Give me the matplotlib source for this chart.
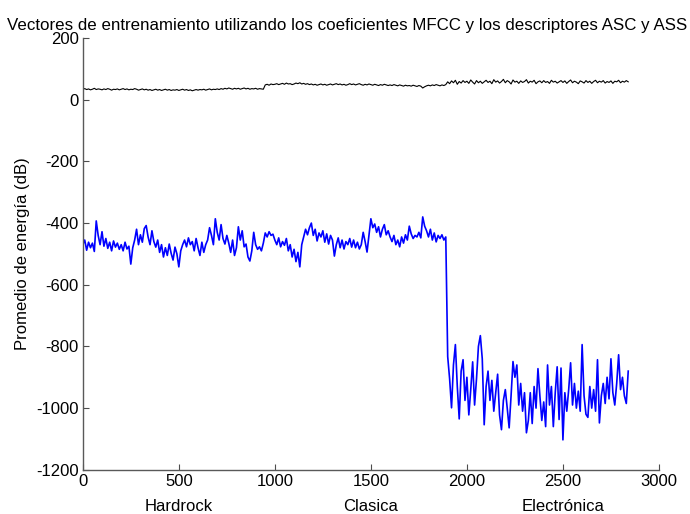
import numpy as np
import matplotlib
matplotlib.use("Agg")
import matplotlib.pyplot as plt
import matplotlib.transforms as mtransforms

plt.rcParams['font.family'] = ['Liberation Sans', 'DejaVu Sans']
plt.rcParams['axes.unicode_minus'] = False

step = 10  # samples between stored values

# Average energy of the MFCC training vectors (dB), one value every 10 samples
mfcc_db = [
    -470, -455, -488, -462, -480, -465, -492, -393, -440, -470,
    -428, -475, -450, -482, -462, -490, -458, -478, -465, -485,
    -470, -490, -462, -484, -475, -533, -480, -455, -420, -470,
    -438, -462, -418, -408, -445, -470, -425, -460, -478, -455,
    -495, -470, -510, -480, -505, -468, -498, -520, -478, -500,
    -542, -490, -470, -455, -477, -448, -470, -460, -490, -450,
    -480, -505, -462, -495, -470, -455, -415, -440, -470, -386,
    -430, -455, -405, -450, -468, -440, -465, -495, -455, -505,
    -480, -412, -455, -425, -477, -468, -510, -523, -490, -430,
    -470, -485, -477, -490, -465, -432, -445, -428, -440, -436,
    -455, -470, -448, -477, -460, -472, -450, -490, -470, -510,
    -485, -525, -495, -542, -470, -445, -420, -438, -415, -400,
    -440, -420, -458, -432, -445, -425, -462, -435, -468, -440,
    -455, -507, -470, -448, -480, -455, -484, -460, -470, -450,
    -478, -455, -480, -462, -484, -470, -430, -460, -494, -440,
    -386, -415, -403, -430, -412, -445, -420, -405, -438, -425,
    -445, -460, -440, -470, -455, -477, -445, -465, -438, -455,
    -410, -435, -450, -440, -445, -430, -448, -380, -410, -425,
    -445, -420, -455, -432, -461, -440, -450, -438, -455, -445,
    -833, -905, -999, -860, -794, -930, -1035, -880, -843, -975,
    -900, -1022, -940, -850, -990, -905, -800, -765, -840, -1054,
    -930, -880, -975, -910, -1010, -950, -890, -1022, -1070, -975,
    -940, -1000, -1064, -960, -849, -900, -860, -990, -920, -1010,
    -950, -1080, -1040, -950, -1050, -930, -1000, -872, -960, -1040,
    -980, -1060, -860, -990, -930, -1060, -950, -866, -1037, -870,
    -1103, -950, -1010, -940, -853, -990, -920, -1000, -945, -1010,
    -794, -960, -1020, -1030, -930, -1000, -940, -1010, -843, -1048,
    -960, -920, -985, -900, -970, -840, -950, -990, -920, -827,
    -940, -900, -960, -985, -880,
]

# Average energy of the ASC / ASS descriptor vectors (dB)
desc_db = [
    34, 36, 33, 35, 32, 34, 37, 33, 35, 34,
    32, 35, 33, 36, 34, 31, 34, 33, 35, 32,
    34, 36, 33, 35, 32, 34, 33, 36, 34, 31,
    33, 35, 32, 34, 31, 33, 30, 32, 34, 31,
    33, 30, 32, 34, 31, 33, 30, 32, 31, 33,
    30, 32, 34, 31, 33, 30, 32, 29, 31, 33,
    31, 33, 32, 34, 31, 33, 35, 32, 34, 33,
    35, 33, 36, 34, 37, 35, 38, 36, 34, 37,
    35, 37, 34, 36, 38, 35, 37, 34, 36, 35,
    37, 34, 36, 35, 34, 48, 50, 47, 51, 49,
    50, 52, 49, 51, 53, 50, 54, 51, 52, 49,
    51, 54, 52, 55, 51, 53, 50, 52, 49, 51,
    48, 50, 47, 49, 51, 48, 50, 47, 49, 51,
    48, 50, 52, 49, 51, 48, 50, 47, 49, 52,
    49, 51, 48, 50, 52, 49, 47, 50, 48, 51,
    49, 47, 50, 48, 46, 49, 47, 50, 48, 46,
    48, 46, 49, 47, 45, 48, 46, 44, 47, 45,
    46, 44, 47, 45, 43, 46, 44, 38, 42, 45,
    47, 45, 48, 46, 49, 47, 45, 48, 46, 49,
    58, 52, 61, 55, 63, 50, 59, 54, 62, 56,
    60, 53, 64, 57, 51, 62, 55, 60, 53, 58,
    63, 56, 60, 52, 65, 57, 61, 54, 59, 66,
    55, 62, 58, 51, 64, 57, 60, 53, 61, 56,
    59, 65, 54, 60, 57, 63, 52, 58, 61, 55,
    62, 56, 59, 53, 63, 57, 60, 54, 58, 62,
    56, 61, 53, 59, 64, 55, 60, 57, 52, 61,
    58, 54, 62, 56, 60, 53, 59, 63, 55, 60,
    57, 62, 54, 59, 56, 61, 53, 60, 58, 63,
    55, 60, 57, 62, 58,
]

genres = ["Hardrock", "Clasica", "Electrónica"]
genre_centers = [500, 1500, 2500]
x_ticks = [0, 500, 1000, 1500, 2000, 2500, 3000]
y_ticks = [-1200, -1000, -800, -600, -400, -200, 0, 200]

title = "Vectores de entrenamiento utilizando los coeficientes MFCC y los descriptores ASC y ASS"
ylabel = "Promedio de energía (dB)"

fs = 12

fig = plt.figure(figsize=(6.9, 5.14), dpi=100)
ax = fig.add_axes([0.120, 0.086, 0.835, 0.840])

x_mfcc = np.arange(len(mfcc_db)) * step
x_desc = np.arange(len(desc_db)) * step
ax.plot(x_desc, desc_db, color="black", lw=0.8)
ax.plot(x_mfcc, mfcc_db, color="#0000ff", lw=1.2)

ax.set_xlim(0, 3000)
ax.set_ylim(-1200, 200)
ax.set_xticks(x_ticks)
ax.set_yticks(y_ticks)
ax.tick_params(direction="in", length=4, width=0.8, color="0.3",
               labelsize=fs, pad=3)
for side in ("top", "right"):
    ax.spines[side].set_visible(False)
for side in ("left", "bottom"):
    ax.spines[side].set_color("0.35")
    ax.spines[side].set_linewidth(1.0)

# The title is wider than the axes, so it is centred on the figure instead
fig.text(0.503, 0.951, title, fontsize=12.2, ha="center", va="center")
ax.set_ylabel(ylabel, fontsize=fs, labelpad=4)

trans = mtransforms.blended_transform_factory(ax.transData, ax.transAxes)
for name, xc in zip(genres, genre_centers):
    ax.text(xc, -0.068, name, transform=trans, ha="center", va="top",
            fontsize=fs)

fig.savefig("out.png", dpi=100)
